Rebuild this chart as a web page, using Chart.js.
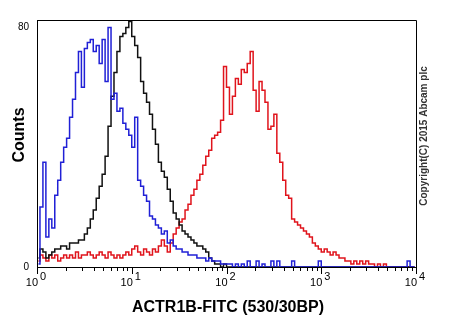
<!DOCTYPE html>
<html>
<head>
<meta charset="utf-8">
<script src="https://cdn.jsdelivr.net/npm/chart.js@4.4.0/dist/chart.umd.min.js"></script>
<style>
  html, body { margin: 0; padding: 0; background: #fff; }
</style>
</head>
<body>
<canvas id="myChart" width="450" height="330"></canvas>
<script>
// FITC histogram, 32 channels per decade over 10^0 .. 10^4
var binsPerDecade = 32
var decades = [0, 1, 2, 3, 4]
var yTicks = [0, 80]

var blueCounts = [
    1, 20, 35, 10, 16, 13, 24, 29, 35, 40,
    43, 50, 56, 65, 72, 60, 73, 75, 76, 72,
    74, 68, 76, 62, 80, 56, 58, 52, 53, 48,
    46, 44, 40, 50, 29, 27, 24, 22, 17, 16,
    14, 13, 11, 12, 8, 9, 7, 6, 6, 5,
    5, 4, 4, 4, 3, 3, 3, 2, 3, 2,
    2, 2, 1, 1, 1, 1, 0, 1, 0, 1,
    0, 2, 0, 0, 2, 0, 1, 0, 0, 2,
    0, 2, 0, 0, 0, 0, 2, 0, 0, 0,
    0, 0, 0, 0, 0, 2, 0, 0, 0, 0,
    0, 0, 0, 0, 0, 0, 0, 0, 0, 0,
    0, 0, 0, 0, 0, 0, 0, 0, 0, 0,
    0, 0, 0, 0, 0, 2, 0, 0
]

var blackCounts = [
    3, 6, 5, 3, 4, 5, 6, 6, 7, 7,
    6, 8, 8, 8, 9, 9, 11, 13, 16, 19,
    23, 27, 31, 37, 47, 57, 65, 72, 77, 78,
    80, 82, 77, 74, 70, 62, 58, 55, 51, 46,
    41, 35, 32, 30, 26, 22, 18, 16, 14, 12,
    11, 10, 9, 8, 7, 7, 6, 5, 3, 2,
    1, 1, 0, 1, 0, 0, 0, 0, 0, 0,
    0, 0, 0, 0, 0, 0, 0, 0, 0, 0,
    0, 0, 0, 0, 0, 0, 0, 0, 0, 0,
    0, 0, 0, 0, 0, 0, 0, 0, 0, 0,
    0, 0, 0, 0, 0, 0, 0, 0, 0, 0,
    0, 0, 0, 0, 0, 0, 0, 0, 0, 0,
    0, 0, 0, 0, 0, 0, 0, 0
]

var redCounts = [
    2, 4, 3, 2, 4, 3, 4, 2, 3, 4,
    3, 4, 3, 5, 3, 4, 4, 5, 4, 3,
    4, 5, 4, 3, 5, 4, 3, 4, 3, 4,
    5, 4, 6, 7, 5, 4, 6, 5, 4, 6,
    5, 7, 9, 7, 5, 8, 11, 13, 15, 16,
    19, 21, 24, 26, 29, 31, 34, 37, 39, 43,
    44, 45, 49, 67, 60, 51, 57, 63, 61, 66,
    65, 68, 72, 59, 52, 62, 59, 55, 46, 47,
    51, 38, 35, 29, 24, 23, 16, 15, 14, 13,
    12, 11, 10, 8, 7, 6, 5, 6, 5, 4,
    5, 4, 3, 3, 2, 2, 1, 2, 1, 2,
    1, 2, 1, 1, 0, 1, 0, 1, 0, 0,
    0, 0, 0, 0, 0, 0, 0, 0
]

var fontFamily = '"Liberation Sans", Arial, sans-serif'

function toPoints(counts) {
    return counts.map(function(c, i) {
        return { x: Math.pow(10, (i + 0.5) / binsPerDecade), y: c }
    })
}

// box edges, log ticks, decade labels and titles
var histDecor = {
    id: 'histDecor',
    afterDraw: function(chart) {
        var ctx = chart.ctx
        var area = chart.chartArea
        var xs = chart.scales.x
        ctx.save()
        ctx.strokeStyle = '#000'
        ctx.lineWidth = 1

        ctx.beginPath()
        ctx.moveTo(area.left, area.top + 0.5)
        ctx.lineTo(area.right + 0.5, area.top + 0.5)
        ctx.lineTo(area.right + 0.5, area.bottom)
        ctx.stroke()

        ctx.beginPath()
        decades.forEach(function(d) {
            for (var m = 1; m <= 9; m++) {
                if (d == 4 && m > 1) break
                var px = Math.round(xs.getPixelForValue(m * Math.pow(10, d))) + 0.5
                var len = m == 1 ? 7 : 4
                ctx.moveTo(px, area.bottom)
                ctx.lineTo(px, area.bottom + len)
            }
        })
        ctx.stroke()

        ctx.fillStyle = '#000'
        ctx.font = '11px ' + fontFamily
        ctx.textBaseline = 'alphabetic'
        decades.forEach(function(d) {
            var px = xs.getPixelForValue(Math.pow(10, d))
            ctx.textAlign = 'right'
            ctx.fillText('10', px + 1, 286)
            ctx.textAlign = 'left'
            ctx.fillText(String(d), px + 3, 280)
        })

        ctx.font = 'bold 16px ' + fontFamily
        ctx.textAlign = 'center'
        ctx.fillText('ACTR1B-FITC (530/30BP)', 228, 312)

        ctx.save()
        ctx.translate(24, 135)
        ctx.rotate(-Math.PI / 2)
        ctx.fillText('Counts', 0, 0)
        ctx.restore()

        ctx.save()
        ctx.translate(427, 136)
        ctx.rotate(-Math.PI / 2)
        ctx.font = 'bold 10px ' + fontFamily
        ctx.fillStyle = '#333'
        ctx.fillText('Copyright(C) 2015 Abcam plc', 0, 0)
        ctx.restore()

        ctx.restore()
    }
}

var ctx = document.getElementById('myChart')

var myChart = new Chart(ctx, {
    type: 'line',
    data: {
        datasets: [
            { data: toPoints(blueCounts), borderColor: '#2020d6', borderWidth: 1.5, stepped: 'middle' },
            { data: toPoints(blackCounts), borderColor: '#111111', borderWidth: 1.5, stepped: 'middle' },
            { data: toPoints(redCounts), borderColor: '#e0141c', borderWidth: 1.5, stepped: 'middle' }
        ]
    },
    options: {
        responsive: false,
        animation: false,
        events: [],
        layout: { padding: { top: 20, right: 34, left: 0, bottom: 0 } },
        elements: { point: { radius: 0 } },
        plugins: {
            legend: { display: false },
            tooltip: { enabled: false }
        },
        scales: {
            x: {
                type: 'logarithmic',
                min: 1,
                max: 10000,
                grid: { display: false, drawTicks: false },
                border: { display: true, color: '#000', width: 1 },
                ticks: { display: false },
                afterFit: function(s) { s.height = 63 }
            },
            y: {
                min: 0,
                max: 82.5,
                grid: { display: false, drawTicks: false },
                border: { display: true, color: '#000', width: 1 },
                ticks: { color: '#000', padding: 8, font: { size: 10, family: fontFamily } },
                afterBuildTicks: function(s) {
                    s.ticks = yTicks.map(function(v) { return { value: v } })
                },
                afterFit: function(s) { s.width = 37 }
            }
        }
    },
    plugins: [histDecor]
})
</script>
</body>
</html>
